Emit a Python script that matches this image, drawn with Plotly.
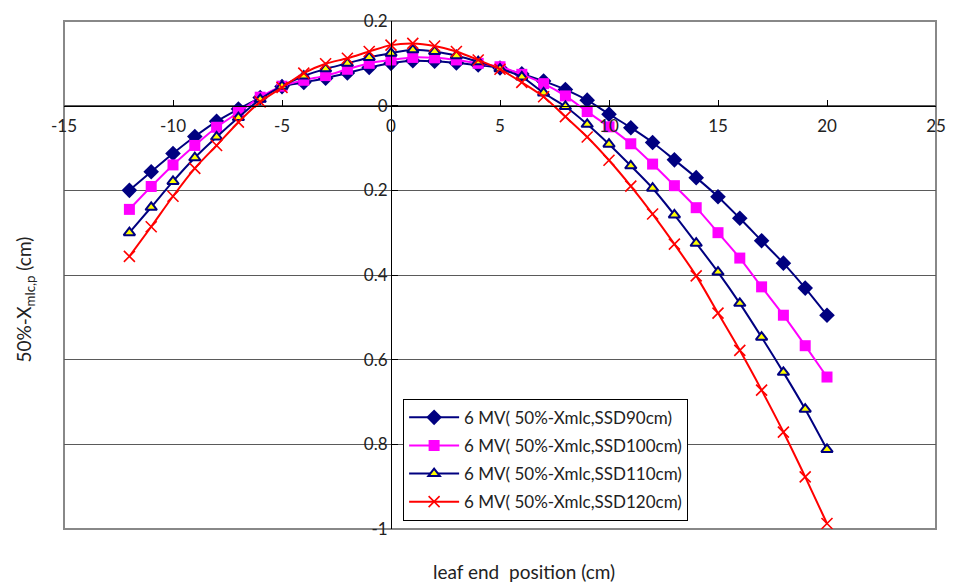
import plotly.graph_objects as go

x_pos = list(range(-12, 21))

ssd90 = [-0.200, -0.156, -0.113, -0.073, -0.037, -0.008, 0.019, 0.045, 0.055, 0.065, 0.077,
         0.090, 0.100, 0.106, 0.105, 0.101, 0.096, 0.089, 0.075, 0.058, 0.038, 0.013, -0.020,
         -0.052, -0.087, -0.128, -0.170, -0.215, -0.266, -0.319, -0.372, -0.431, -0.495]
ssd100 = [-0.245, -0.191, -0.140, -0.094, -0.051, -0.016, 0.020, 0.046, 0.060, 0.071, 0.086,
          0.100, 0.108, 0.114, 0.113, 0.108, 0.100, 0.092, 0.074, 0.052, 0.023, -0.014, -0.050,
          -0.090, -0.138, -0.189, -0.241, -0.300, -0.360, -0.428, -0.495, -0.567, -0.641]
ssd110 = [-0.300, -0.240, -0.179, -0.123, -0.074, -0.028, 0.015, 0.046, 0.070, 0.087, 0.100,
          0.114, 0.124, 0.132, 0.128, 0.118, 0.104, 0.087, 0.068, 0.030, -0.002, -0.044, -0.091,
          -0.142, -0.195, -0.258, -0.325, -0.393, -0.467, -0.547, -0.630, -0.717, -0.812]
ssd120 = [-0.356, -0.286, -0.214, -0.148, -0.094, -0.039, 0.009, 0.043, 0.077, 0.099, 0.112,
          0.128, 0.143, 0.147, 0.141, 0.128, 0.108, 0.086, 0.055, 0.021, -0.026, -0.074, -0.129,
          -0.190, -0.256, -0.327, -0.402, -0.490, -0.578, -0.672, -0.771, -0.877, -0.987]

names = ["6 MV( 50%-Xmlc,SSD90cm)", "6 MV( 50%-Xmlc,SSD100cm)",
         "6 MV( 50%-Xmlc,SSD110cm)", "6 MV( 50%-Xmlc,SSD120cm)"]

x_tickvals = [-15, -10, -5, 0, 5, 10, 15, 20, 25]
x_ticktext = ["-15", "-10", "-5", "0", "5", "10", "15", "20", "25"]
y_tickvals = [0.2, 0, -0.2, -0.4, -0.6, -0.8, -1]
y_ticktext = ["0.2", "0", "0.2", "0.4", "0.6", "0.8", "-1"]

FONT = "Lato, Carlito, Calibri, sans-serif"

fig = go.Figure()
styles = [
    dict(line=dict(color="#000080", width=2),
         marker=dict(symbol="diamond", size=12, color="#000080")),
    dict(line=dict(color="#FF00FF", width=2),
         marker=dict(symbol="square", size=11, color="#FF00FF")),
    dict(line=dict(color="#000080", width=2),
         marker=dict(symbol="triangle-up", size=10, color="#FFFF00",
                     line=dict(color="#000080", width=2))),
    dict(line=dict(color="#FF0000", width=2),
         marker=dict(symbol="x-thin-open", size=11, color="#FF0000",
                     line=dict(color="#FF0000", width=1.6))),
]
for i, (ys, nm) in enumerate(zip([ssd90, ssd100, ssd110, ssd120], names)):
    st = styles[i]
    fig.add_trace(go.Scatter(x=x_pos, y=ys, name=nm, mode="lines+markers",
                             line=dict(shape="spline", smoothing=0.8, **st["line"]),
                             marker=st["marker"], legendgroup=f"g{i}"))

fig.update_layout(
    width=956, height=587,
    margin=dict(l=64, r=10, t=14, b=58),
    paper_bgcolor="white", plot_bgcolor="white",
    font=dict(family=FONT, size=16, color="#222222"),
    showlegend=True,
    legend=dict(x=(407 - 64) / 882, y=(529 - 397) / 515, xanchor="left", yanchor="top",
                bgcolor="white", bordercolor="#000000", borderwidth=1,
                font=dict(family=FONT, size=17, color="#222222"),
                tracegroupgap=3, traceorder="grouped", itemwidth=50),
    xaxis=dict(range=[-15, 25], tickvals=x_tickvals, ticktext=x_ticktext,
               showgrid=False, zeroline=False, showline=True, linecolor="#000000", linewidth=1,
               ticks="inside", ticklen=6, tickcolor="#000000",
               anchor="free", position=(1.0 / 1.2), ticklabelstandoff=5,
               tickfont=dict(family=FONT, size=17, color="#222222")),
    yaxis=dict(range=[-1, 0.2], tickvals=y_tickvals, ticktext=y_ticktext,
               showgrid=True, gridcolor="#5a5a5a", gridwidth=1, zeroline=False,
               showline=True, linecolor="#000000", linewidth=1,
               ticks="inside", ticklen=6, tickcolor="#000000",
               anchor="free", position=15 / 40,
               tickfont=dict(family=FONT, size=17, color="#222222")),
)

fig.add_shape(type="rect", xref="paper", yref="paper", x0=0, y0=0, x1=1, y1=1,
              line=dict(color="#888888", width=2), layer="below")

fig.add_annotation(text="leaf end  position (cm)", xref="paper", yref="paper",
                   x=(529 - 64) / 882, y=-(572 - 529) / 515, showarrow=False,
                   xanchor="center", yanchor="middle",
                   font=dict(family=FONT, size=19, color="#222222"))
fig.add_annotation(text="50%-X<sub>mlc,p</sub> (cm)", xref="paper", yref="paper",
                   x=-(64 - 25) / 882, y=(529 - 296) / 515, showarrow=False, textangle=-90,
                   xanchor="center", yanchor="middle",
                   font=dict(family=FONT, size=19, color="#222222"))

fig.write_html("out.html")
